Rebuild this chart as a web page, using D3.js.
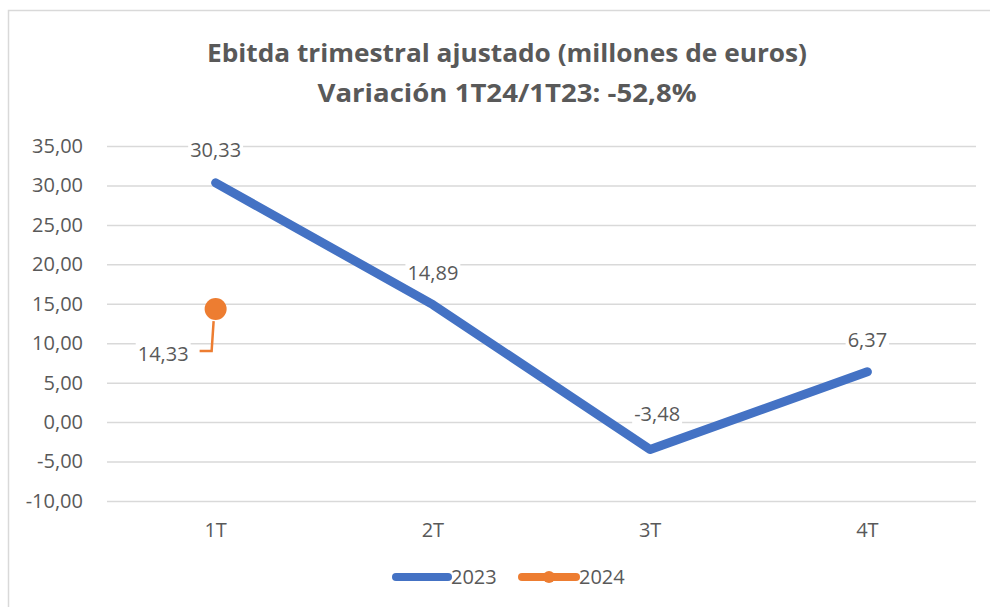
<!DOCTYPE html>
<html>
<head>
<meta charset="utf-8">
<script src="https://cdn.jsdelivr.net/npm/d3@7"></script>
<style>
  body { margin: 0; background: #fff; }
  text { font-family: "Open Sans", sans-serif; fill: #595959; }
</style>
</head>
<body>
<svg id="chart" width="990" height="607"></svg>
<script>
// data
var quarters = ["1T", "2T", "3T", "4T"];
var values2023 = [30.33, 14.89, -3.48, 6.37];
var values2024 = [14.33];
var yTicks = [-10, -5, 0, 5, 10, 15, 20, 25, 30, 35];
var titleLines = ["Ebitda trimestral ajustado (millones de euros)", "Variación 1T24/1T23: -52,8%"];
var seriesNames = ["2023", "2024"];

var blue = "#4472C4", orange = "#ED7D31";
var fs = "20px";

var svg = d3.select("#chart");

// outer frame
svg.append("rect")
    .attr("x", 8.5).attr("y", 10.5)
    .attr("width", 1000).attr("height", 700)
    .attr("fill", "none").attr("stroke", "#D9D9D9").attr("stroke-width", 1.5);

var loc = d3.formatLocale({decimal: ",", thousands: ".", grouping: [3], currency: ["", "€"], minus: "-"});
var fmt = loc.format(".2f");

var x = d3.scaleBand().domain(quarters).range([107, 976]);
var y = d3.scaleLinear().domain([-10, 35]).range([501, 146]);
function cx(d) { return x(d) + x.bandwidth() / 2; }

// title
svg.selectAll(".title")
    .data(titleLines)
    .enter().append("text")
    .attr("class", "title")
    .attr("x", 507)
    .attr("y", function (d, i) { return 62 + i * 40; })
    .attr("text-anchor", "middle")
    .attr("textLength", function (d, i) { return i === 0 ? 600 : 379; })
    .attr("lengthAdjust", "spacingAndGlyphs")
    .style("font-weight", "bold")
    .style("font-size", "25px")
    .text(function (d) { return d; });

// y axis + gridlines
var yAxis = svg.append("g")
    .attr("transform", "translate(107,0)")
    .call(d3.axisLeft(y).tickValues(yTicks).tickFormat(fmt).tickSize(-869).tickPadding(24));
yAxis.select(".domain").remove();
yAxis.selectAll(".tick line").attr("stroke", "#D9D9D9").attr("stroke-width", 1.5);
yAxis.selectAll(".tick text").style("font-size", fs).style("fill", "#595959")
    .style("font-family", "'Open Sans', sans-serif");

// x axis labels
var xAxis = svg.append("g")
    .attr("transform", "translate(0,501)")
    .call(d3.axisBottom(x).tickSize(0).tickPadding(22));
xAxis.select(".domain").remove();
xAxis.selectAll(".tick text").style("font-size", fs).style("fill", "#595959")
    .style("font-family", "'Open Sans', sans-serif");

// 2023 line
var line = d3.line()
    .x(function (d, i) { return cx(quarters[i]); })
    .y(function (d) { return y(d); });

svg.append("path")
    .datum(values2023)
    .attr("d", line)
    .attr("fill", "none")
    .attr("stroke", blue)
    .attr("stroke-width", 9)
    .attr("stroke-linecap", "round")
    .attr("stroke-linejoin", "round");

// label with white box behind it
function addLabel(tx, ty, anchor, txt) {
  var g = svg.append("g");
  var t = g.append("text")
      .attr("x", tx).attr("y", ty)
      .attr("text-anchor", anchor)
      .style("font-size", fs)
      .text(txt);
  var b = t.node().getBBox();
  g.insert("rect", "text")
      .attr("x", b.x - 2).attr("y", b.y + 2)
      .attr("width", b.width + 4).attr("height", b.height - 4)
      .attr("fill", "#fff");
}

// 2023 labels
var off2023 = [[0, -26], [0, -25], [7, -29], [0, -25]];
values2023.forEach(function (d, i) {
  addLabel(cx(quarters[i]) + off2023[i][0], y(d) + off2023[i][1], "middle", fmt(d));
});

// 2024 leader line
values2024.forEach(function (d, i) {
  var px = cx(quarters[i]), py = y(d);
  svg.append("path")
      .attr("d", "M" + (px - 16) + "," + (py + 42) + "H" + (px - 4) + "L" + (px - 2) + "," + (py + 12))
      .attr("fill", "none")
      .attr("stroke", orange)
      .attr("stroke-width", 2.5);
});

// 2024 points
svg.selectAll(".pt24")
    .data(values2024)
    .enter().append("circle")
    .attr("class", "pt24")
    .attr("cx", function (d, i) { return cx(quarters[i]); })
    .attr("cy", function (d) { return y(d); })
    .attr("r", 11)
    .attr("fill", orange);

values2024.forEach(function (d, i) {
  addLabel(cx(quarters[i]) - 27, y(d) + 52, "end", fmt(d));
});

// legend
var leg = svg.append("g").attr("transform", "translate(0,577)");
leg.append("line")
    .attr("x1", 396).attr("x2", 448).attr("y1", 0).attr("y2", 0)
    .attr("stroke", blue).attr("stroke-width", 8).attr("stroke-linecap", "round");
leg.append("text").attr("x", 451).attr("y", 7).style("font-size", fs).text(seriesNames[0]);
leg.append("line")
    .attr("x1", 522).attr("x2", 576).attr("y1", 0).attr("y2", 0)
    .attr("stroke", orange).attr("stroke-width", 8).attr("stroke-linecap", "round");
leg.append("circle").attr("cx", 549).attr("cy", 0).attr("r", 6).attr("fill", orange);
leg.append("text").attr("x", 579).attr("y", 7).style("font-size", fs).text(seriesNames[1]);
</script>
</body>
</html>
